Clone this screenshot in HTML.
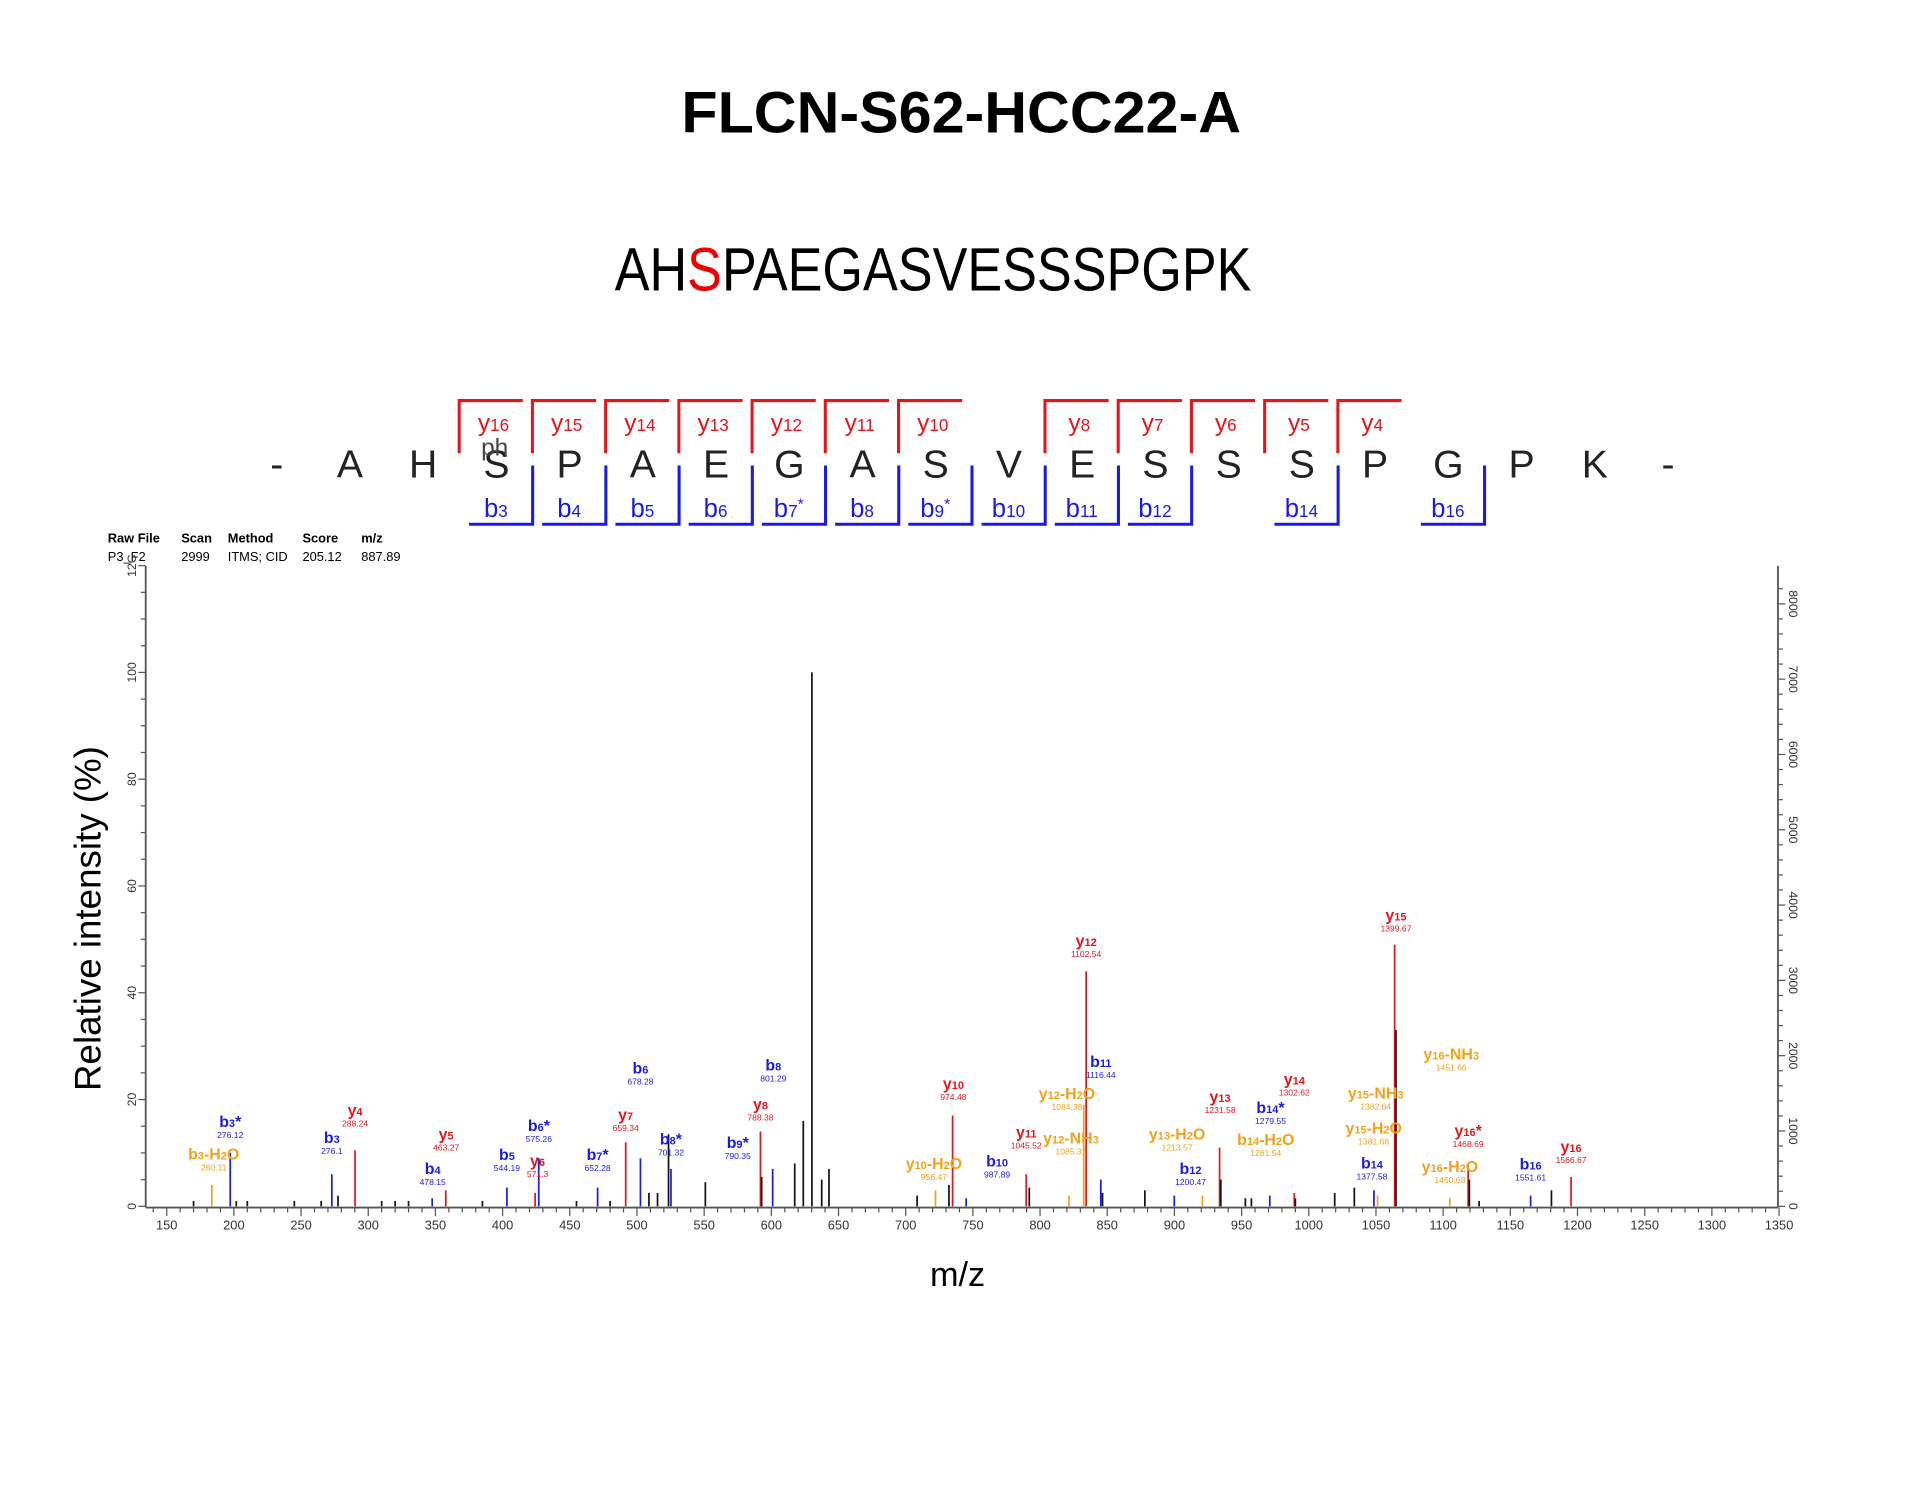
<!DOCTYPE html>
<html><head><meta charset="utf-8"><style>
html,body{margin:0;padding:0;background:#fff;}
svg{display:block;font-family:"Liberation Sans",sans-serif;}
</style></head><body>
<svg id="chart" width="1920" height="1493" viewBox="0 0 1568 1219" xmlns="http://www.w3.org/2000/svg">
<text x="785" y="108" text-anchor="middle" font-size="48" font-weight="bold" textLength="457" lengthAdjust="spacingAndGlyphs">FLCN-S62-HCC22-A</text>
<text x="762" y="237" text-anchor="middle" font-size="50" textLength="520" lengthAdjust="spacingAndGlyphs">AH<tspan fill="#e00">S</tspan>PAEGASVESSSPGPK</text>
<g id="seq"></g>
<g font-size="10.5">
<text x="88" y="443" font-weight="bold">Raw File</text><text x="148" y="443" font-weight="bold">Scan</text><text x="186" y="443" font-weight="bold">Method</text><text x="247" y="443" font-weight="bold">Score</text><text x="295" y="443" font-weight="bold">m/z</text>
<text x="88" y="458">P3_F2</text><text x="148" y="458">2999</text><text x="186" y="458">ITMS; CID</text><text x="247" y="458">205.12</text><text x="295" y="458">887.89</text>
</g>
<g id="axes"></g>
<g id="peaks"></g>
<g id="labels"></g>
<text transform="translate(82,750) rotate(-90)" text-anchor="middle" font-size="30">Relative intensity (%)</text>
<text x="782" y="1050" text-anchor="middle" font-size="28">m/z</text>
</svg>
<script>
const residues=["-","A","H","S","P","A","E","G","A","S","V","E","S","S","S","P","G","P","K","-"];
const yIons=[16,15,14,13,12,11,10,null,8,7,6,5,4];
const bIons=["3","4","5","6","7*","8","9*","10","11","12",null,"14",null,"16"];
const peakMz=[183.6,197.3,201.8,272.9,277.5,290.2,347.6,357.7,403.2,424.2,426.9,470.7,491.6,502.6,508.9,515.3,523.5,525.3,550.9,591.9,592.8,601.0,617.4,623.8,630.2,637.5,642.9,708.5,722.2,732.2,734.9,745.0,789.7,792,821.5,832.5,834.3,845.2,846.5,878.0,899.9,920.9,933.6,934.5,952.8,957.3,971.0,989.2,990,1019.3,1033.9,1048.5,1051.2,1063.9,1064.9,1105.0,1118.6,1119.5,1126.8,1165.1,1180.6,1195.2,170,210,245,265,310,320,330,385,455,480];
const peakInt=[4,10,1,6,2,10.5,1.5,3,3.5,2.5,9,3.5,12,9,2.5,2.5,13.5,7,4.5,14,5.5,7,8,16,100,5,7,2,3,4,17,1.5,6,3.5,2,19,44,5,2.5,3,2,2,11,5,1.5,1.5,2,2.5,1.5,2.5,3.5,3,2,49,33,1.5,8,5,1,2,3,5.5,1,1,1,1,1,1,1,1,1,1];
const peakType=["o","b","k","b","k","r","b","r","b","r","b","b","r","b","k","k","k","b","k","r","k","b","k","k","k","k","k","k","o","k","r","b","r","k","o","o","r","b","k","k","b","o","r","k","k","k","b","r","k","k","k","b","o","r","k","o","r","k","k","b","k","r","k","k","k","k","k","k","k","k","k","k"];
const labName=["b3-H2O","b3*","b3","y4","y5","b4","b5","y6","b6*","b7*","y7","b6","b8*","b9*","y8","b8","y10-H2O","y10","b10","y11","y12-H2O","y12","y12-NH3","b11","y13-H2O","y13","b12","b14*","y14","b14-H2O","b14","y15-NH3","y15-H2O","y15","y16-NH3","y16*","y16-H2O","b16","y16"];
const labVal=["260.11","276.12","276.1","288.24","463.27","478.15","544.19","571.3","575.26","652.28","659.34","678.28","701.32","790.35","788.38","801.29","956.47","974.48","987.89","1045.52","1084.38","1102.54","1085.31","1116.44","1213.57","1231.58","1200.47","1279.55","1302.62","1261.54","1377.58","1382.64","1381.66","1399.67","1451.66","1468.69","1450.68","1551.61","1566.67"];
const labMz=[185,197.3,272.9,290.2,358,348,403.2,426,427,470.7,491.6,502.6,525.3,575,591.9,601.5,721,735.5,768,789.7,820,834.3,823,845.2,902,934,912,971.5,989.2,968,1047,1049.8,1048.3,1064.9,1106,1118.6,1105,1165.1,1195.2];
const labPct=[6.5,12.6,9.6,14.7,10.2,3.8,6.4,5.3,11.8,6.4,13.9,22.6,9.3,8.6,15.8,23.1,4.7,19.7,5.2,10.6,17.8,46.5,9.5,23.8,10.2,17.2,3.8,15.2,20.5,9.2,4.8,17.9,11.3,51.2,25.2,10.9,4.1,4.6,7.9];

const NS="http://www.w3.org/2000/svg";
function mk(p,t,a){const e=document.createElementNS(NS,t);for(const k in a)e.setAttribute(k,a[k]);p.appendChild(e);return e;}
const X=m=>191+(m-200)*1.0973, Y=v=>985-v*4.36, YR=c=>985-c*0.0615;
const col={r:"#e8141c",b:"#1a1ae6",o:"#f4a11a",k:"#111"};

// sequence map
const seq=document.getElementById('seq');
residues.forEach((r,i)=>{const t=mk(seq,'text',{x:226+i*59.8,y:390,'text-anchor':'middle','font-size':32,fill:'#222'});t.textContent=r;

});
const ph=mk(seq,'text',{x:404,y:372,'text-anchor':'middle','font-size':20,fill:'#444'});ph.textContent='ph';
yIons.forEach((n,i)=>{if(n===null)return;const l=375+i*59.8;
mk(seq,'path',{d:`M${l} 370 V327 H${l+52}`,fill:'none',stroke:col.r,'stroke-width':2.5});
const t=mk(seq,'text',{x:l+28,y:352,'text-anchor':'middle','font-size':20,fill:col.r});t.innerHTML='y<tspan font-size="14">'+n+'</tspan>';

});
bIons.forEach((n,i)=>{if(n===null)return;const r=435+i*59.8;
mk(seq,'path',{d:`M${r} 380 V428 H${r-52}`,fill:'none',stroke:col.b,'stroke-width':2.5});
const s=n.replace('*','');const st=n.includes('*')?'*':'';
const t=mk(seq,'text',{x:r-30,y:422,'text-anchor':'middle','font-size':21,fill:col.b});t.innerHTML='b<tspan font-size="14">'+s+'</tspan>'+(st?'<tspan font-size="13" dy="-6">*</tspan>':'');

});

// axes
const ax=document.getElementById('axes');
mk(ax,'line',{x1:119,y1:462,x2:119,y2:986,stroke:'#555','stroke-width':1.5});
mk(ax,'line',{x1:119,y1:986,x2:1452,y2:986,stroke:'#555','stroke-width':1.5});
mk(ax,'line',{x1:1452,y1:462,x2:1452,y2:986,stroke:'#555','stroke-width':1.5});
for(let v=0;v<=120;v+=5){const y=Y(v),maj=v%20==0;mk(ax,'line',{x1:maj?113:115,y1:y,x2:119,y2:y,stroke:'#555'});
if(maj){const t=mk(ax,'text',{transform:`translate(111,${y}) rotate(-90)`,'text-anchor':'middle','font-size':10,fill:'#333'});t.textContent=v==120?'12C':v;}}
for(let c=0;c<=8200;c+=200){const y=YR(c),maj=c%1000==0;mk(ax,'line',{x1:1452,y1:y,x2:maj?1458:1456,y2:y,stroke:'#555'});
if(maj){const t=mk(ax,'text',{transform:`translate(1461,${y}) rotate(90)`,'text-anchor':'middle','font-size':10,fill:'#333'});t.textContent=c==0?'0':c;}}
for(let m=140;m<=1350;m+=10){const x=X(m),maj=m%50==0;mk(ax,'line',{x1:x,y1:986,x2:x,y2:maj?993:990,stroke:'#555'});
if(maj&&m>=150){const t=mk(ax,'text',{x:x,y:1004,'text-anchor':'middle','font-size':10.5,fill:'#333'});t.textContent=m;}}

// peaks
const pk=document.getElementById('peaks');
peakMz.forEach((m,i)=>{const l=mk(pk,'line',{x1:X(m),x2:X(m),y1:985,y2:Y(peakInt[i]),stroke:col[peakType[i]],'stroke-width':1.4});

});

// labels
const lb=document.getElementById('labels');
labName.forEach((n,i)=>{const c=n.includes('-')?col.o:(n[0]=='y'?col.r:col.b);
const x=X(labMz[i]),y=Y(labPct[i]);
const mm=n.match(/^([by])(\d+)(\*?)(.*)$/);
let h=mm[1]+'<tspan font-size="9">'+mm[2]+'</tspan>'+mm[3];
if(mm[4])h+=mm[4].replace('H2O','H<tspan font-size="9">2</tspan>O').replace('NH3','NH<tspan font-size="9">3</tspan>');
const t=mk(lb,'text',{x:x,y:y-10,'text-anchor':'middle','font-size':13,'font-weight':'bold',fill:c});t.innerHTML=h;


const v=mk(lb,'text',{x:x,y:y-1,'text-anchor':'middle','font-size':7,fill:c});v.textContent=labVal[i];

});
</script>
</body></html>
